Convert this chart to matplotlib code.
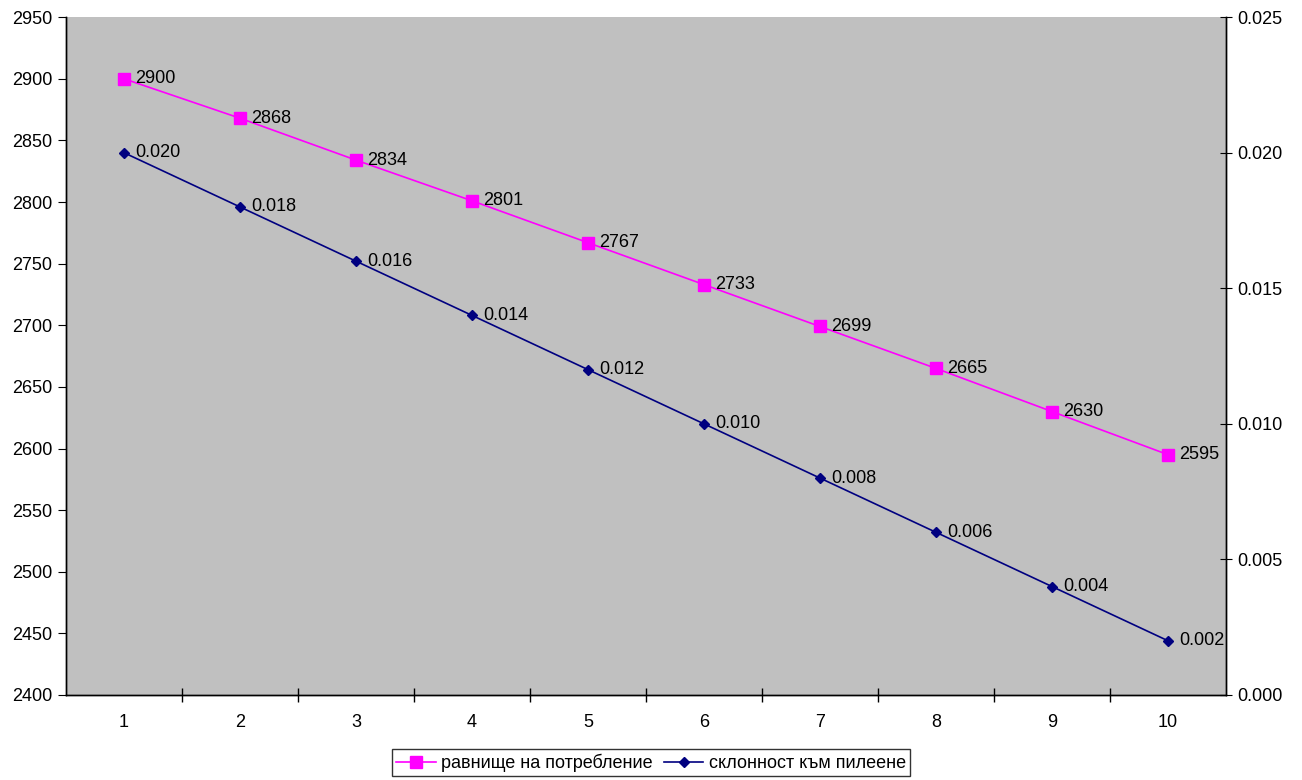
import matplotlib

matplotlib.use("Agg")
import matplotlib.pyplot as plt  # noqa: E402
from matplotlib.ticker import FixedLocator, NullFormatter  # noqa: E402

plt.rcParams["font.family"] = ["Liberation Sans", "DejaVu Sans"]

periods = [1, 2, 3, 4, 5, 6, 7, 8, 9, 10]
consumption = [2900, 2868, 2834, 2801, 2767, 2733, 2699, 2665, 2630, 2595]
saving = [0.020, 0.018, 0.016, 0.014, 0.012, 0.010, 0.008, 0.006, 0.004, 0.002]

PINK = "#FF00FF"
NAVY = "#000080"
FS = 13

fig = plt.figure(figsize=(13.02, 7.8), dpi=100)
ax = fig.add_axes([0.0507, 0.109, 0.8909, 0.869])
ax.set_facecolor("#C0C0C0")
ax2 = ax.twinx()

l1, = ax.plot(periods, consumption, color=PINK, lw=1.2, marker="s", ms=8,
              label="равнище на потребление")
l2, = ax2.plot(periods, saving, color=NAVY, lw=1.2, marker="D", ms=5.5,
               label="склонност към пилеене")

for x, y in zip(periods, consumption):
    ax.annotate(f"{y}", (x, y), xytext=(8, 0), textcoords="offset points",
                va="center", ha="left", fontsize=FS)
for x, y in zip(periods, saving):
    ax2.annotate(f"{y:.3f}", (x, y), xytext=(8, 0), textcoords="offset points",
                 va="center", ha="left", fontsize=FS)

ax.set_xlim(0.5, 10.5)
ax.set_ylim(2400, 2950)
ax.set_yticks(range(2400, 2951, 50))
ax2.set_ylim(0, 0.025)
ax2.set_yticks([0, 0.005, 0.010, 0.015, 0.020, 0.025])
ax2.set_yticklabels([f"{v:.3f}" for v in [0, 0.005, 0.010, 0.015, 0.020, 0.025]])

ax.set_xticks(periods)
ax.set_xticklabels([str(p) for p in periods])
ax.tick_params(axis="x", which="major", length=0, pad=14, labelsize=FS)
ax.xaxis.set_minor_locator(FixedLocator([p + 0.5 for p in periods[:-1]]))
ax.xaxis.set_minor_formatter(NullFormatter())
ax.tick_params(axis="x", which="minor", direction="inout", length=10, width=1)
ax.tick_params(axis="y", direction="out", length=6, labelsize=FS, pad=4)
ax2.tick_params(axis="y", direction="inout", length=8, labelsize=FS, pad=4)

for a in (ax, ax2):
    a.spines["top"].set_visible(False)
    for s in ("left", "right", "bottom"):
        a.spines[s].set_linewidth(1.0)
        a.spines[s].set_color("black")

leg = fig.legend(handles=[l1, l2], loc="lower center", bbox_to_anchor=(0.5, 0.0),
                 ncol=2, fontsize=FS, frameon=True, fancybox=False,
                 handlelength=2.2, handletextpad=0.3, columnspacing=0.6,
                 borderpad=0.25, borderaxespad=0.2)
leg.get_frame().set_edgecolor("black")
leg.get_frame().set_linewidth(1.0)

fig.savefig("out.png", dpi=100)
